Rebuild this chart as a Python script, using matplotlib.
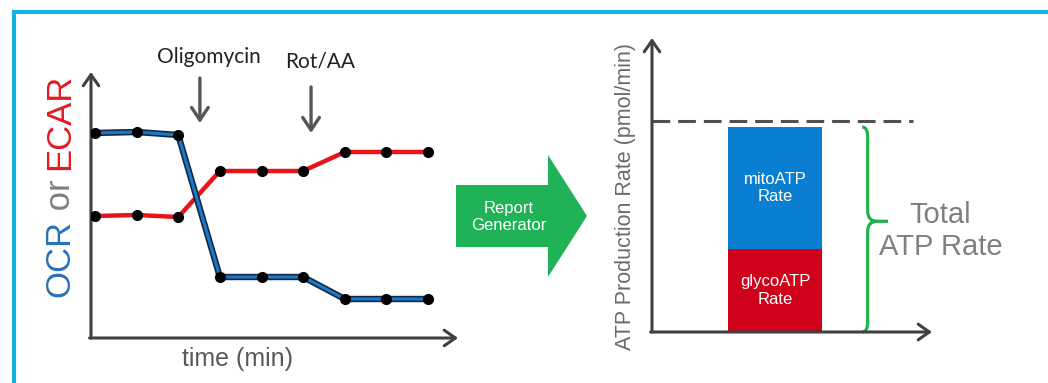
import matplotlib.pyplot as plt
import matplotlib.patches as mpatches
import matplotlib.patheffects as pe
from matplotlib.path import Path
import numpy as np

plt.rcParams['font.family'] = ['Liberation Sans', 'DejaVu Sans']

# seahorse trace, arbitrary units
measurement = [1, 2, 3, 4, 5, 6, 7, 8, 9]
ocr = [205, 206, 203, 61, 61, 61, 39, 39, 39]
ecar = [122, 123, 121, 167, 167, 167, 186, 186, 186]
injection_at = [3.52, 6.19]
injection_names = ['Oligomycin', 'Rot/AA']
arrow_top = [260, 251]
arrow_tip = [215, 205]
name_y = [281, 277]

# ATP rate bar (stacked)
rate_labels = ['glycoATP\nRate', 'mitoATP\nRate']
rate_values = [83, 122]
rate_colors = ['#d0021b', '#0a7fd2']

W, H = 1048, 383
fig = plt.figure(figsize=(W / 100, H / 100), dpi=100)


def px_box(x0, y0, x1, y1):
    # pixel box (top-left origin) -> figure fraction rect
    return [x0 / W, 1 - y1 / H, (x1 - x0) / W, (y1 - y0) / H]


# background layer: frame + report generator arrow
bg = fig.add_axes([0, 0, 1, 1])
bg.set_xlim(0, W)
bg.set_ylim(H, 0)
bg.axis('off')
bg.plot([13.5, 13.5, W], [H, 12, 12], color='#17b1e2', lw=3, solid_joinstyle='miter')
bg.add_patch(mpatches.FancyArrow(456, 216, 131, 0, width=62, head_width=122, head_length=39,
                                 length_includes_head=True, color='#1fb257', lw=0))
bg.text(509, 217, 'Report\nGenerator', color='white', ha='center', va='center', fontsize=12)

# left panel: OCR / ECAR trace
ax = fig.add_axes(px_box(91, 72, 458, 338))
ax.set_xlim(0.904, 9.72)
ax.set_ylim(0, 266)
ax.axis('off')
ax.set_facecolor('none')

ax.plot(measurement, ecar, color='#e8141c', lw=3.2, zorder=2)
ax.plot(measurement, ocr, color='#1f77c4', lw=2.2, zorder=3,
        path_effects=[pe.Stroke(linewidth=4.6, foreground='#0f2a45'), pe.Normal()])
ax.plot(measurement, ecar, ls='none', marker='o', ms=7, color='k', zorder=4)
ax.plot(measurement, ocr, ls='none', marker='o', ms=7, color='k', zorder=4)

axis_arrow = dict(arrowstyle='->,head_length=0.4,head_width=0.28', mutation_scale=20,
                  lw=2.2, color='#404040', shrinkA=0, shrinkB=0)
ax.annotate('', xy=(0, 1), xytext=(0, 0), xycoords='axes fraction', arrowprops=axis_arrow)
ax.annotate('', xy=(1, 0), xytext=(-0.004, 0), xycoords='axes fraction', arrowprops=axis_arrow)

for x, top, tip, name, ny in zip(injection_at, arrow_top, arrow_tip, injection_names, name_y):
    ax.annotate('', xy=(x, tip), xytext=(x, top), annotation_clip=False,
                arrowprops=dict(arrowstyle='->,head_length=0.45,head_width=0.3', mutation_scale=20,
                                lw=2.4, color='#555555', shrinkA=0, shrinkB=0))
    ax.text(x + 0.22, ny, name, ha='center', va='center', fontsize=15, family='Lato', color='#222222')

ax.text(0.40, -0.08, 'time (min)', transform=ax.transAxes, ha='center', va='center',
        fontsize=18, color='#595959')

# multi-coloured rotated y label
fig.canvas.draw()
rend = fig.canvas.get_renderer()
yb = 1 - 297 / H
for part, col in [('OCR', '#2a72b5'), (' or ', '#7f7f7f'), ('ECAR', '#e31b23')]:
    t = fig.text(60 / W, yb, part, rotation=90, ha='center', va='bottom', fontsize=25, color=col)
    bb = t.get_window_extent(rend)
    yb += bb.height / fig.bbox.height

# right panel: ATP production rate
ax2 = fig.add_axes(px_box(652, 38, 932, 332))
ax2.set_xlim(-0.785, 1.0)
ax2.set_ylim(0, 294)
ax2.axis('off')
ax2.set_facecolor('none')

bottoms = np.cumsum([0] + rate_values[:-1])
ax2.bar([0] * len(rate_values), rate_values, bottom=bottoms, width=0.6, color=rate_colors)
for lab, v, b in zip(rate_labels, rate_values, bottoms):
    ax2.text(0, b + v / 2, lab, ha='center', va='center', color='white', fontsize=12)

total = sum(rate_values)
ax2.plot([-0.785, 0.88], [total * 1.03] * 2, ls=(0, (5.8, 2.6)), color='#505050', lw=2.2)

ax2.annotate('', xy=(0, 1), xytext=(0, 0), xycoords='axes fraction', arrowprops=axis_arrow)
ax2.annotate('', xy=(1, 0), xytext=(-0.005, 0), xycoords='axes fraction', arrowprops=axis_arrow)

# curly brace spanning the total
x0, xs, xt, r = 0.555, 0.59, 0.72, 10
mid = total * 0.54
verts = [(x0, total), (xs, total), (xs, total - r), (xs, mid + r), (xs, mid), (xs + 0.06, mid), (xt, mid),
         (xs + 0.06, mid), (xs, mid), (xs, mid - r), (xs, r), (xs, 0), (x0, 0)]
codes = [Path.MOVETO, Path.CURVE3, Path.CURVE3, Path.LINETO, Path.CURVE3, Path.CURVE3, Path.LINETO,
         Path.MOVETO, Path.CURVE3, Path.CURVE3, Path.LINETO, Path.CURVE3, Path.CURVE3]
ax2.add_patch(mpatches.PathPatch(Path(verts, codes), fill=False, ec='#22b14c', lw=2.3, clip_on=False))

ax2.text(1.053, 101, 'Total\nATP Rate', ha='center', va='center', fontsize=21, color='#808080')

fig.text(625 / W, 1 - 197 / H, 'ATP Production Rate (pmol/min)', rotation=90, ha='center',
         va='center', fontsize=15.5, color='#6b6b6b')

fig.savefig('out.png', dpi=100)
